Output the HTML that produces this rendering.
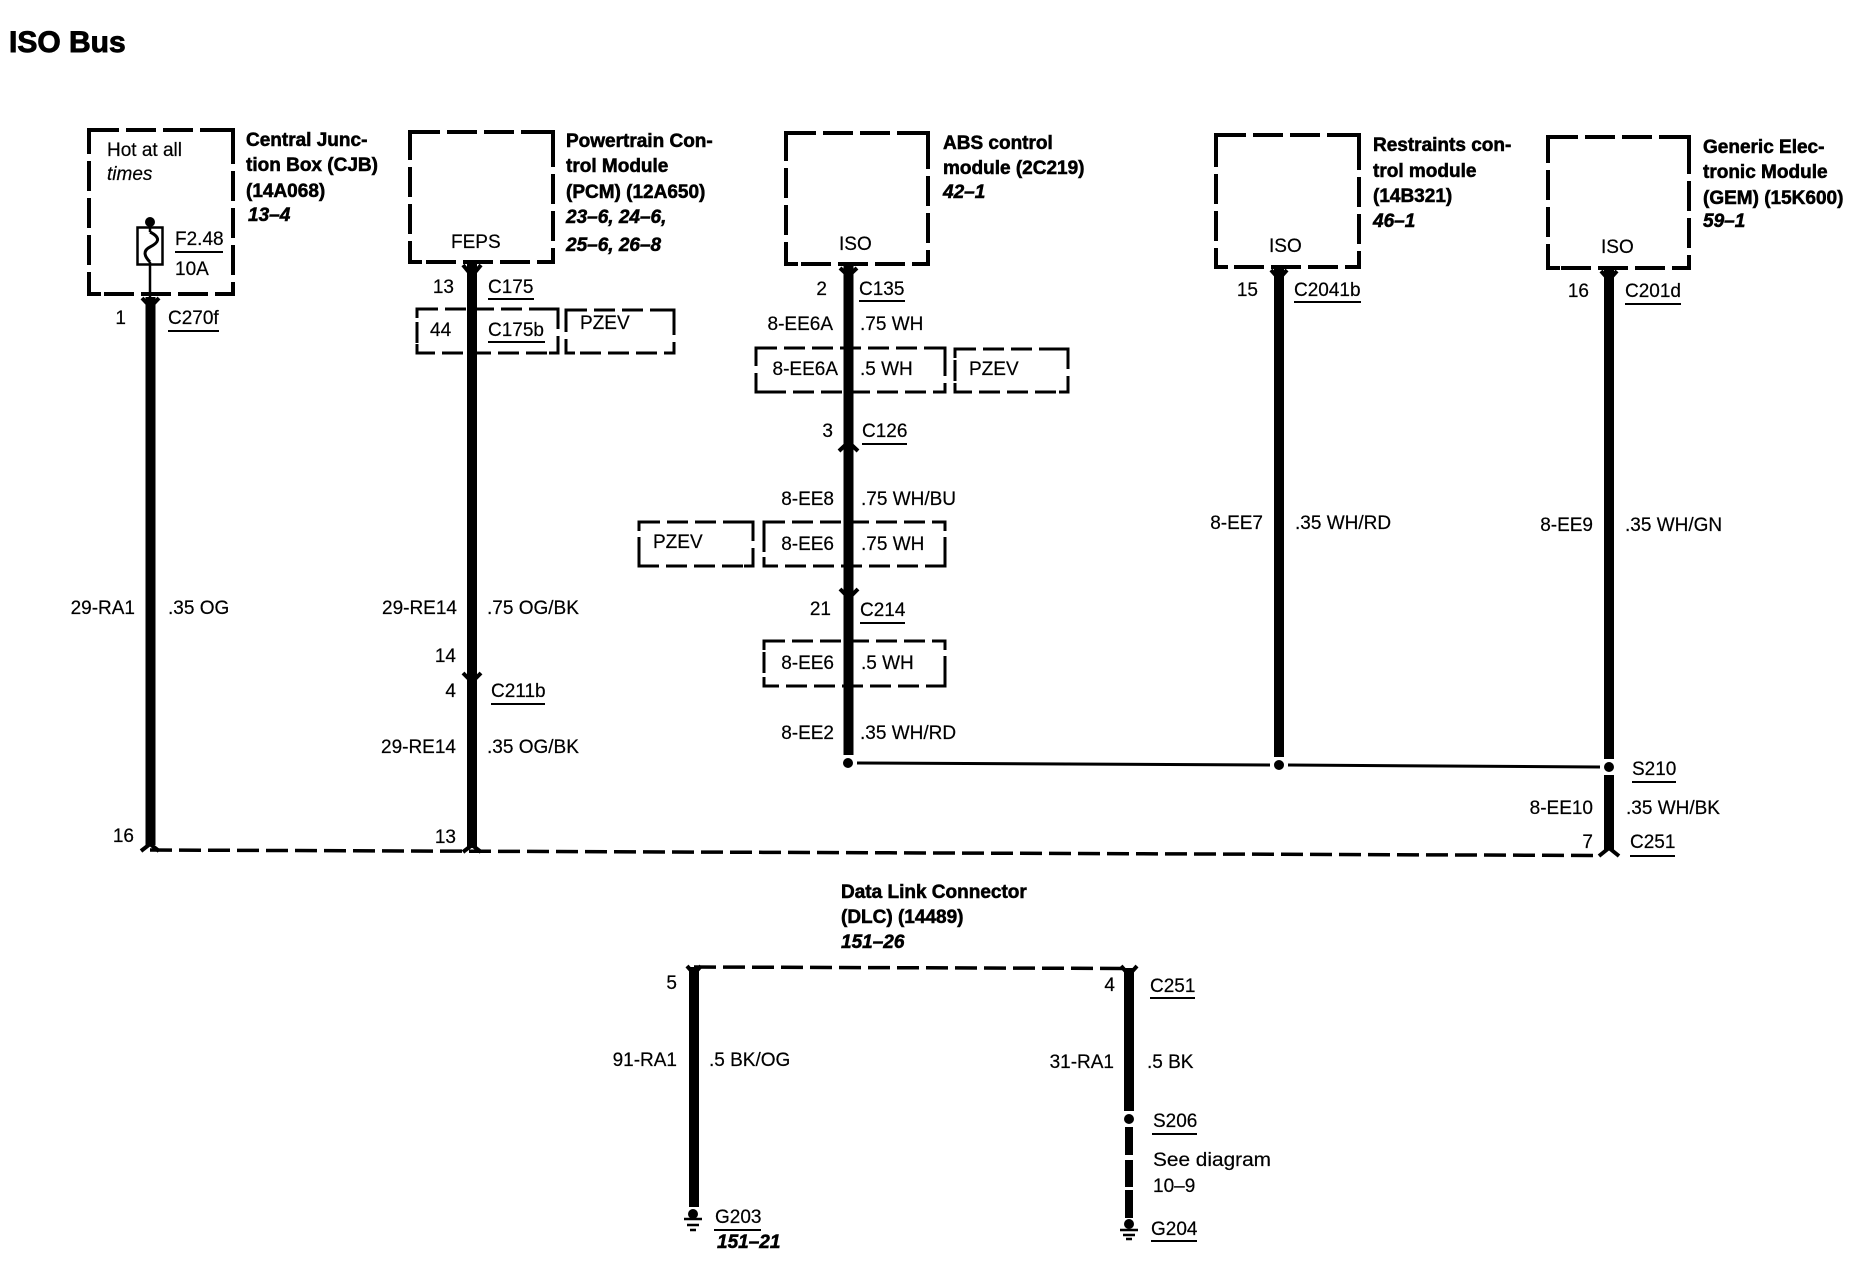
<!DOCTYPE html>
<html><head><meta charset="utf-8"><title>ISO Bus</title>
<style>
html,body{margin:0;padding:0;background:#fff;width:1854px;height:1264px;overflow:hidden}
svg{display:block}
text{font-family:"Liberation Sans",sans-serif;font-size:19px;fill:#000;stroke:#000;stroke-width:.2}
.b{font-weight:bold;stroke-width:.55}
.bi{font-weight:bold;font-style:italic;stroke-width:.55}
.e{text-anchor:end}
.hb{fill:none;stroke:#000;stroke-width:4;stroke-dasharray:30 7}
.hc{fill:none;stroke:#000;stroke-width:4}
.tb{fill:none;stroke:#000;stroke-width:3;stroke-dasharray:21 7}
.tc{fill:none;stroke:#000;stroke-width:3}
.w{stroke:#000;stroke-width:10;fill:none}
.u{stroke:#000;stroke-width:2;fill:none}
.c{stroke:#000;stroke-width:4;fill:none}
</style></head><body>
<svg width="1854" height="1264" viewBox="0 0 1854 1264" xmlns="http://www.w3.org/2000/svg">
<text x="9" y="52" class="b" style="font-size:30px;stroke-width:.9">ISO Bus</text>

<!-- module boxes -->
<rect x="89" y="130" width="144" height="164" class="hb"/>
<path class="hc" d="M89 142V130H101M221 130H233V142M233 282V294H221M101 294H89V282"/>
<rect x="410" y="132" width="143" height="130" class="hb"/>
<path class="hc" d="M410 144V132H422M541 132H553V144M553 250V262H541M422 262H410V250"/>
<rect x="786" y="133" width="142" height="131" class="hb"/>
<path class="hc" d="M786 145V133H798M916 133H928V145M928 252V264H916M798 264H786V252"/>
<rect x="1216" y="135" width="143" height="132" class="hb"/>
<path class="hc" d="M1216 147V135H1228M1347 135H1359V147M1359 255V267H1347M1228 267H1216V255"/>
<rect x="1548" y="137" width="141" height="131" class="hb"/>
<path class="hc" d="M1548 149V137H1560M1677 137H1689V149M1689 256V268H1677M1560 268H1548V256"/>

<!-- option boxes -->
<rect x="417" y="309" width="141" height="44" class="tb"/>
<path class="tc" d="M417 318V309H426M549 309H558V318M558 344V353H549M426 353H417V344"/>
<rect x="566" y="310" width="108" height="43" class="tb"/>
<path class="tc" d="M566 319V310H575M665 310H674V319M674 344V353H665M575 353H566V344"/>
<rect x="756" y="348" width="189" height="44" class="tb"/>
<path class="tc" d="M756 357V348H765M936 348H945V357M945 383V392H936M765 392H756V383"/>
<rect x="955" y="349" width="113" height="43" class="tb"/>
<path class="tc" d="M955 358V349H964M1059 349H1068V358M1068 383V392H1059M964 392H955V383"/>
<rect x="639" y="522" width="114" height="44" class="tb"/>
<path class="tc" d="M639 531V522H648M744 522H753V531M753 557V566H744M648 566H639V557"/>
<rect x="764" y="522" width="181" height="44" class="tb"/>
<path class="tc" d="M764 531V522H773M936 522H945V531M945 557V566H936M773 566H764V557"/>
<rect x="764" y="641" width="181" height="45" class="tb"/>
<path class="tc" d="M764 650V641H773M936 641H945V650M945 677V686H936M773 686H764V677"/>

<!-- CJB -->
<text x="107" y="156">Hot at all</text>
<text x="107" y="180" font-style="italic">times</text>
<circle cx="150" cy="222" r="5"/>
<rect x="137.500" y="227.500" width="25" height="37" fill="none" stroke="#000" stroke-width="2.500"/>
<path d="M150 222V232M150 262V297" stroke="#000" stroke-width="2.500" fill="none"/>
<path d="M150 232C162 238 158 243 150 247C142 251 145 257 150 262" stroke="#000" stroke-width="3" fill="none"/>
<text x="175" y="245">F2.48</text>
<path d="M175 252H223" class="u"/>
<text x="175" y="275">10A</text>
<path class="w" d="M150.500 297V845"/>
<path class="c" d="M142 298L150.500 307L159 298"/>
<text x="246" y="146" class="b">Central Junc-</text>
<text x="246" y="171" class="b">tion Box (CJB)</text>
<text x="246" y="197" class="b">(14A068)</text>
<text x="248" y="221" class="bi">13–4</text>
<text x="126" y="324" class="e">1</text>
<text x="168" y="324">C270f</text>
<path d="M168 331H219" class="u"/>
<text x="135" y="614" class="e">29-RA1</text>
<text x="168" y="614">.35 OG</text>
<text x="134" y="842" class="e">16</text>

<!-- PCM -->
<text x="451" y="248">FEPS</text>
<text x="566" y="147" class="b">Powertrain Con-</text>
<text x="566" y="172" class="b">trol Module</text>
<text x="566" y="198" class="b">(PCM) (12A650)</text>
<text x="566" y="223" class="bi">23–6, 24–6,</text>
<text x="566" y="251" class="bi">25–6, 26–8</text>
<path class="w" d="M472 262V848"/>
<path class="c" d="M463 265L472 276L481 265"/>
<path class="c" d="M463 673L472 682L481 673"/>
<text x="454" y="293" class="e">13</text>
<text x="488" y="293">C175</text>
<path d="M488 299H534" class="u"/>
<text x="430" y="336">44</text>
<text x="488" y="336">C175b</text>
<path d="M488 342H545" class="u"/>
<text x="580" y="329">PZEV</text>
<text x="457" y="614" class="e">29-RE14</text>
<text x="487" y="614">.75 OG/BK</text>
<text x="456" y="662" class="e">14</text>
<text x="456" y="697" class="e">4</text>
<text x="491" y="697">C211b</text>
<path d="M491 704H545" class="u"/>
<text x="456" y="753" class="e">29-RE14</text>
<text x="487" y="753">.35 OG/BK</text>
<text x="456" y="843" class="e">13</text>

<!-- ABS -->
<text x="839" y="250">ISO</text>
<text x="943" y="149" class="b">ABS control</text>
<text x="943" y="174" class="b">module (2C219)</text>
<text x="943" y="198" class="bi">42–1</text>
<path class="w" d="M848.500 264V755"/>
<path class="c" d="M840 268L848.500 276L857 268"/>
<path class="c" d="M839 451L848.500 442L858 451"/>
<path class="c" d="M840 589L849 598L858 589"/>
<text x="827" y="295" class="e">2</text>
<text x="859" y="295">C135</text>
<path d="M859 301H905" class="u"/>
<text x="833" y="330" class="e">8-EE6A</text>
<text x="860" y="330">.75 WH</text>
<text x="838" y="375" class="e">8-EE6A</text>
<text x="860" y="375">.5 WH</text>
<text x="969" y="375">PZEV</text>
<text x="833" y="437" class="e">3</text>
<text x="862" y="437">C126</text>
<path d="M862 444H907" class="u"/>
<text x="834" y="505" class="e">8-EE8</text>
<text x="861" y="505">.75 WH/BU</text>
<text x="653" y="548">PZEV</text>
<text x="834" y="550" class="e">8-EE6</text>
<text x="861" y="550">.75 WH</text>
<text x="831" y="615" class="e">21</text>
<text x="860" y="616">C214</text>
<path d="M860 623H905" class="u"/>
<text x="834" y="669" class="e">8-EE6</text>
<text x="861" y="669">.5 WH</text>
<text x="834" y="739" class="e">8-EE2</text>
<text x="860" y="739">.35 WH/RD</text>
<circle cx="848" cy="763" r="5"/>
<path d="M857 763L1270 765M1288 765L1600 767" stroke="#000" stroke-width="3" fill="none"/>

<!-- Restraints -->
<text x="1269" y="252">ISO</text>
<text x="1373" y="151" class="b">Restraints con-</text>
<text x="1373" y="177" class="b">trol module</text>
<text x="1373" y="202" class="b">(14B321)</text>
<text x="1373" y="227" class="bi">46–1</text>
<path class="w" d="M1279 267V757"/>
<path class="c" d="M1271 270L1279 279L1287 270"/>
<text x="1258" y="296" class="e">15</text>
<text x="1294" y="296">C2041b</text>
<path d="M1294 302H1361" class="u"/>
<text x="1263" y="529" class="e">8-EE7</text>
<text x="1295" y="529">.35 WH/RD</text>
<circle cx="1279" cy="765" r="5"/>

<!-- GEM -->
<text x="1601" y="253">ISO</text>
<text x="1703" y="153" class="b">Generic Elec-</text>
<text x="1703" y="178" class="b">tronic Module</text>
<text x="1703" y="204" class="b">(GEM) (15K600)</text>
<text x="1703" y="227" class="bi">59–1</text>
<path class="w" d="M1609 268V759M1609 775V850"/>
<path class="c" d="M1601 271L1609 280L1617 271"/>
<path class="c" d="M1599 856L1609 848L1619 856"/>
<circle cx="1609" cy="767" r="5"/>
<text x="1589" y="297" class="e">16</text>
<text x="1625" y="297">C201d</text>
<path d="M1625 304H1681" class="u"/>
<text x="1593" y="531" class="e">8-EE9</text>
<text x="1625" y="531">.35 WH/GN</text>
<text x="1632" y="775">S210</text>
<path d="M1632 782H1676" class="u"/>
<text x="1593" y="814" class="e">8-EE10</text>
<text x="1626" y="814">.35 WH/BK</text>
<text x="1593" y="848" class="e">7</text>
<text x="1630" y="848">C251</text>
<path d="M1630 856H1675" class="u"/>

<!-- dashed bus -->
<path d="M150 850L1600 855.500" stroke="#000" stroke-width="3.500" stroke-dasharray="22 7" fill="none"/>
<path class="c" d="M141 851L150 844L159 851"/>
<path class="c" d="M463 852L472 845L481 852"/>

<!-- DLC -->
<text x="841" y="898" class="b">Data Link Connector</text>
<text x="841" y="923" class="b">(DLC) (14489)</text>
<text x="841" y="948" class="bi">151–26</text>
<path d="M694 967L1129 968.500" stroke="#000" stroke-width="3.500" stroke-dasharray="22 7" fill="none"/>
<path class="w" d="M694 967V1207"/>
<path class="c" d="M687 966L694 974L701 966"/>
<text x="677" y="989" class="e">5</text>
<text x="677" y="1066" class="e">91-RA1</text>
<text x="709" y="1066">.5 BK/OG</text>
<circle cx="693" cy="1214" r="5"/>
<path d="M684 1219H702M687 1225H699M690 1230H696" stroke="#000" stroke-width="2.500" fill="none"/>
<text x="715" y="1223">G203</text>
<path d="M714 1230H761" class="u"/>
<text x="717" y="1248" class="bi">151–21</text>

<path class="w" d="M1129 968V1111"/>
<path d="M1129 1127V1155M1129 1160V1187M1129 1190V1218" stroke="#000" stroke-width="8" fill="none"/>
<path class="c" d="M1121 966L1129 975L1137 966"/>
<circle cx="1129" cy="1119" r="5"/>
<circle cx="1129" cy="1224" r="5"/>
<path d="M1120 1230H1138M1123 1235H1135M1126 1239H1132" stroke="#000" stroke-width="2.500" fill="none"/>
<text x="1115" y="991" class="e">4</text>
<text x="1150" y="992">C251</text>
<path d="M1150 998H1195" class="u"/>
<text x="1114" y="1068" class="e">31-RA1</text>
<text x="1147" y="1068">.5 BK</text>
<text x="1153" y="1127">S206</text>
<path d="M1152 1134H1197" class="u"/>
<text x="1153" y="1166" textLength="118" lengthAdjust="spacingAndGlyphs">See diagram</text>
<text x="1153" y="1192">10–9</text>
<text x="1151" y="1235">G204</text>
<path d="M1151 1241H1197" class="u"/>
</svg>
</body></html>
